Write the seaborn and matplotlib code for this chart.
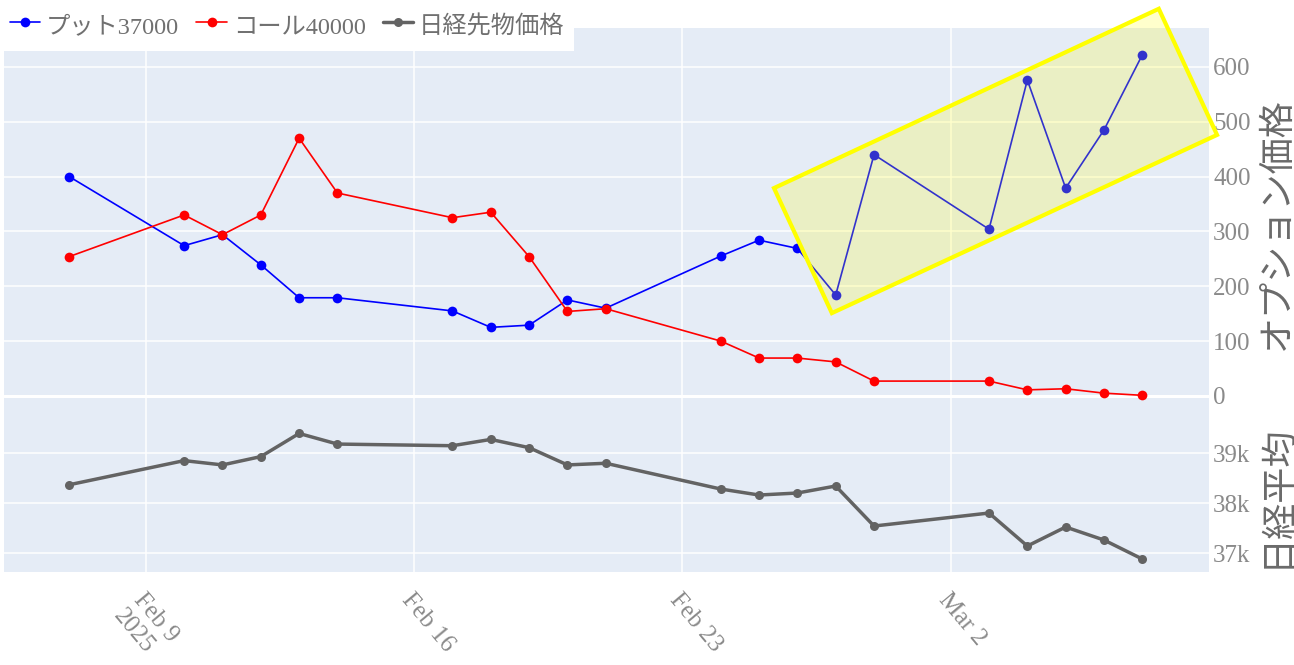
import matplotlib
matplotlib.use('Agg')
import pandas as pd
import matplotlib.pyplot as plt
import matplotlib.dates as mdates
from matplotlib.patches import Polygon
import seaborn as sns

# Data
dates = ['2025-02-07', '2025-02-10', '2025-02-11', '2025-02-12', '2025-02-13', '2025-02-14',
         '2025-02-17', '2025-02-18', '2025-02-19', '2025-02-20', '2025-02-21',
         '2025-02-24', '2025-02-25', '2025-02-26', '2025-02-27', '2025-02-28',
         '2025-03-03', '2025-03-04', '2025-03-05', '2025-03-06', '2025-03-07']
put_37000 = [400, 274, 294, 239, 179, 179, 155, 125, 129, 175, 160,
             255, 284, 269, 184, 440, 304, 576, 379, 485, 622]
call_40000 = [254, 330, 294, 330, 470, 370, 325, 335, 254, 154, 159,
              100, 69, 69, 62, 27, 27, 11, 13, 5, 1]
nikkei_futures = [38371, 38854, 38768, 38934, 39397, 39185, 39152, 39278, 39113, 38768, 38801,
                  38286, 38166, 38206, 38346, 37546, 37806, 37146, 37526, 37266, 36886]

option_ticks = [0, 100, 200, 300, 400, 500, 600]
nikkei_ticks = [37000, 38000, 39000]
nikkei_tick_labels = ['37k', '38k', '39k']
x_tick_dates = ['2025-02-09', '2025-02-16', '2025-02-23', '2025-03-02']
x_tick_labels = ['Feb 9\n2025', 'Feb 16', 'Feb 23', 'Mar 2']

# highlighted zone (rotated box drawn over the latest put prices)
highlight_corners = [('2025-02-25 09:22', 379), ('2025-03-07 10:19', 706),
                     ('2025-03-08 22:48', 476), ('2025-02-26 21:36', 151)]

df = pd.DataFrame({'date': pd.to_datetime(dates), 'put': put_37000,
                   'call': call_40000, 'nikkei': nikkei_futures})

sns.set_theme(style='darkgrid', rc={'axes.facecolor': '#E5ECF6', 'grid.color': 'white',
                                    'grid.linewidth': 1.1})
plt.rcParams['font.family'] = ['Liberation Serif', 'Noto Sans CJK JP']

tick_color = '#8a8a8a'
title_color = '#6a6a6a'

fig = plt.figure(figsize=(12.94, 6.65), dpi=100)
ax_top = fig.add_axes([0.0031, 0.3684, 0.9312, 0.5895])
ax_bot = fig.add_axes([0.0031, 0.1398, 0.9312, 0.2286], sharex=ax_top)

sns.lineplot(data=df, x='date', y='put', ax=ax_top, color='#0000ff', marker='o',
             markersize=7, markeredgewidth=0, linewidth=1.2, label='プット37000')
sns.lineplot(data=df, x='date', y='call', ax=ax_top, color='#ff0000', marker='o',
             markersize=7, markeredgewidth=0, linewidth=1.2, label='コール40000')
sns.lineplot(data=df, x='date', y='nikkei', ax=ax_bot, color='#636363', marker='o',
             markersize=6.5, markeredgewidth=0, linewidth=2.5, label='日経先物価格')

handles, labels = [], []
for ax in (ax_top, ax_bot):
    h, l = ax.get_legend_handles_labels()
    handles += h
    labels += l
    if ax.get_legend() is not None:
        ax.get_legend().remove()
    for s in ax.spines.values():
        s.set_visible(False)
    ax.yaxis.tick_right()
    ax.set_xlabel('')
    ax.tick_params(axis='y', length=0, pad=3, labelsize=18, labelcolor=tick_color)

ax_top.axhline(0, color='white', linewidth=2.2, zorder=1)
ax_top.set_ylim(-44, 671)
ax_top.set_yticks(option_ticks)
ax_top.tick_params(axis='x', labelbottom=False, length=0)

ax_bot.set_ylim(36626, 39666)
ax_bot.set_yticks(nikkei_ticks, labels=nikkei_tick_labels)

ax_top.set_xlim(pd.Timestamp('2025-02-05 07:12'), pd.Timestamp('2025-03-08 17:45'))
ax_bot.set_xticks(pd.to_datetime(x_tick_dates))
ax_bot.set_xticklabels(x_tick_labels, rotation=-50, ha='left', va='top', rotation_mode='anchor')
ax_bot.tick_params(axis='x', length=0, pad=12, labelsize=18, labelcolor=tick_color)

for ax, title in ((ax_top, 'オプション価格'), (ax_bot, '日経平均')):
    ax.set_ylabel(title, fontsize=26, color=title_color)
    ax.yaxis.set_label_position('right')
    ax.yaxis.set_label_coords(1.0573, 0.5)
    ax.yaxis.label.set_verticalalignment('center')
    ax.yaxis.label.set_horizontalalignment('center')

corners = [(mdates.date2num(pd.Timestamp(d)), v) for d, v in highlight_corners]
ax_top.add_patch(Polygon(corners, closed=True, facecolor=(1, 1, 0, 0.2),
                         edgecolor=(1, 1, 0, 1), linewidth=3, clip_on=False, zorder=5))

fig.legend(handles, labels, loc='upper left', bbox_to_anchor=(0, 1), ncol=3,
           frameon=True, fancybox=False, facecolor='white', edgecolor='none', framealpha=1,
           fontsize=17.5, labelcolor='#707070', handlelength=1.25, handleheight=1.6,
           handletextpad=0.25, columnspacing=0.7, borderpad=0.4, borderaxespad=0)

fig.savefig('out.png', dpi=100)
